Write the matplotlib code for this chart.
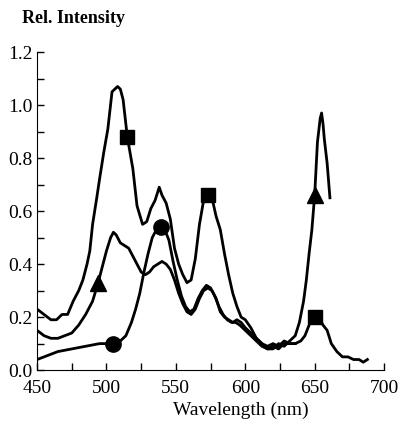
import matplotlib
matplotlib.use("Agg")
import matplotlib.pyplot as plt
from matplotlib.ticker import MultipleLocator, FormatStrFormatter

plt.rcParams['font.family'] = ['Liberation Serif', 'DejaVu Serif']

# square curve (strongest at 508 nm)
sq_wl = [450, 455, 460, 464, 468, 472, 476, 480, 483, 486, 488, 490, 493, 495, 498,
         501, 504, 506, 508, 510, 512, 515, 519, 522, 526, 529, 532, 535, 538, 540,
         543, 546, 549, 552, 555, 558, 561, 564, 567, 570, 573, 576, 579, 582, 585,
         588, 591, 594, 597, 600, 604, 608, 612, 616, 620, 624, 628, 632, 636, 640,
         643, 646, 648, 650, 652, 654, 656, 659, 662, 666, 670, 674, 678, 682, 685, 688]
sq_val = [0.23, 0.21, 0.19, 0.19, 0.21, 0.21, 0.26, 0.30, 0.34, 0.40, 0.45, 0.55, 0.65, 0.72, 0.82,
          0.91, 1.05, 1.06, 1.07, 1.06, 1.02, 0.88, 0.76, 0.62, 0.55, 0.56, 0.61, 0.64, 0.69, 0.66,
          0.63, 0.57, 0.46, 0.40, 0.36, 0.33, 0.34, 0.42, 0.55, 0.64, 0.66, 0.65, 0.58, 0.53, 0.44,
          0.36, 0.29, 0.24, 0.20, 0.19, 0.16, 0.12, 0.10, 0.09, 0.10, 0.09, 0.11, 0.10, 0.10, 0.11,
          0.13, 0.17, 0.20, 0.20, 0.20, 0.19, 0.17, 0.15, 0.10, 0.07, 0.05, 0.05, 0.04, 0.04, 0.03, 0.04]
sq_marks = [515, 573, 650]

# triangle curve (peak near 655 nm)
tri_wl = [450, 455, 460, 465, 470, 475, 480, 485, 490, 494, 497, 500, 503, 505, 507,
          510, 513, 516, 519, 522, 525, 528, 531, 534, 537, 540, 543, 546, 549, 552,
          555, 558, 561, 564, 567, 570, 573, 576, 579, 582, 585, 588, 591, 594, 597,
          600, 604, 608, 612, 616, 620, 624, 628, 632, 636, 639, 642, 644, 646, 648,
          650, 652, 654, 655, 656, 657, 659, 661]
tri_val = [0.15, 0.13, 0.12, 0.12, 0.13, 0.14, 0.17, 0.21, 0.26, 0.33, 0.39, 0.45, 0.50, 0.52, 0.51,
           0.48, 0.47, 0.46, 0.43, 0.40, 0.37, 0.36, 0.37, 0.39, 0.40, 0.41, 0.40, 0.38, 0.34, 0.29,
           0.25, 0.22, 0.21, 0.23, 0.27, 0.30, 0.31, 0.30, 0.27, 0.22, 0.20, 0.19, 0.18, 0.19, 0.18,
           0.16, 0.14, 0.12, 0.10, 0.08, 0.08, 0.10, 0.09, 0.11, 0.13, 0.18, 0.26, 0.34, 0.44, 0.53,
           0.66, 0.86, 0.95, 0.97, 0.93, 0.87, 0.78, 0.65]
tri_marks = [494, 650]

# circle curve (peak near 539 nm)
cir_wl = [450, 455, 460, 465, 470, 475, 480, 485, 490, 495, 500, 505, 510, 514, 518,
          521, 524, 527, 530, 533, 536, 539, 542, 545, 548, 551, 554, 557, 560, 563,
          566, 569, 572, 575, 578, 581, 584, 587, 590, 593, 596, 600, 604, 608, 612,
          616, 620, 624, 628, 632, 636]
cir_val = [0.04, 0.05, 0.06, 0.07, 0.075, 0.08, 0.085, 0.09, 0.095, 0.10, 0.10, 0.10, 0.11, 0.13, 0.18,
           0.23, 0.29, 0.37, 0.44, 0.50, 0.53, 0.54, 0.53, 0.49, 0.41, 0.34, 0.28, 0.24, 0.22, 0.23,
           0.27, 0.30, 0.32, 0.31, 0.28, 0.24, 0.21, 0.19, 0.18, 0.18, 0.17, 0.15, 0.13, 0.11, 0.09,
           0.08, 0.09, 0.08, 0.10, 0.10, 0.10]
cir_marks = [505, 539]

fig = plt.figure(figsize=(4.03, 4.23), dpi=100)
ax = fig.add_axes([0.092, 0.125, 0.861, 0.752])

ax.plot(sq_wl, sq_val, color='black', lw=2.0, marker='s', markersize=10,
        markevery=[sq_wl.index(w) for w in sq_marks])
ax.plot(tri_wl, tri_val, color='black', lw=2.0, marker='^', markersize=12,
        markevery=[tri_wl.index(w) for w in tri_marks])
ax.plot(cir_wl, cir_val, color='black', lw=2.0, marker='o', markersize=11,
        markevery=[cir_wl.index(w) for w in cir_marks])

ax.set_xlim(450, 700)
ax.set_ylim(0, 1.2)
ax.spines['top'].set_visible(False)
ax.spines['right'].set_visible(False)
ax.xaxis.set_major_locator(MultipleLocator(50))
ax.xaxis.set_minor_locator(MultipleLocator(25))
ax.yaxis.set_major_locator(MultipleLocator(0.2))
ax.yaxis.set_minor_locator(MultipleLocator(0.1))
ax.yaxis.set_major_formatter(FormatStrFormatter('%.1f'))
ax.tick_params(which='both', direction='in', length=5, width=1, labelsize=14)
ax.tick_params(axis='x', pad=7)
ax.tick_params(axis='y', pad=3)

ax.set_xlabel('Wavelength (nm)', fontsize=14)
ax.xaxis.set_label_coords(0.588, -0.1)
fig.text(0.055, 0.957, 'Rel. Intensity', fontsize=13, fontweight='bold', va='center', ha='left')

fig.savefig('out.png', dpi=100)
